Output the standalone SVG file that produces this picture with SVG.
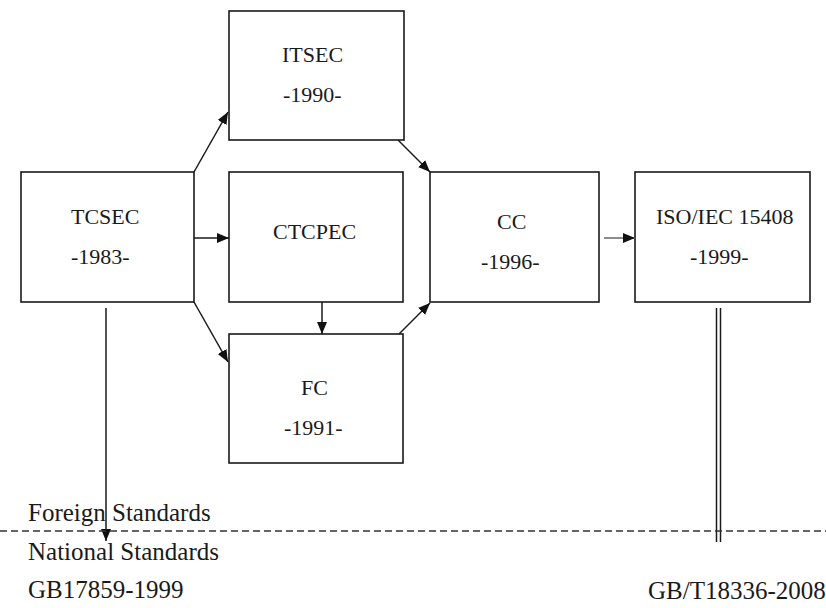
<svg xmlns="http://www.w3.org/2000/svg" width="826" height="608" viewBox="0 0 826 608">
  <style>
    .box { fill: #ffffff; stroke: #1a1a1a; stroke-width: 1.6; }
    .lbl { font-family: "Liberation Serif", "Times New Roman", serif; font-size: 22px; fill: #1a1a1a; }
    .big { font-family: "Liberation Serif", "Times New Roman", serif; font-size: 25px; fill: #1a1a1a; }
    .edge { stroke: #1a1a1a; stroke-width: 1.5; fill: none; }
  </style>
  <defs>
    <marker id="arrow" markerUnits="userSpaceOnUse" markerWidth="13" markerHeight="11" refX="12" refY="5" orient="auto">
      <path d="M0,0 L12,5 L0,10 Z" fill="#111"/>
    </marker>
  </defs>
  <rect width="826" height="608" fill="#ffffff"/>

  <g id="tcsec">
    <rect class="box" x="21" y="172" width="173" height="130"/>
    <text class="lbl" x="71" y="224">TCSEC</text>
    <text class="lbl" x="71" y="264">-1983-</text>
  </g>
  <g id="itsec">
    <rect class="box" x="229" y="11" width="175" height="129"/>
    <text class="lbl" x="282" y="62">ITSEC</text>
    <text class="lbl" x="283" y="102">-1990-</text>
  </g>
  <g id="ctcpec">
    <rect class="box" x="229" y="172" width="174" height="130"/>
    <text class="lbl" x="273" y="239">CTCPEC</text>
  </g>
  <g id="fc">
    <rect class="box" x="229" y="334" width="174" height="129"/>
    <text class="lbl" x="301" y="395">FC</text>
    <text class="lbl" x="284" y="435">-1991-</text>
  </g>
  <g id="cc">
    <rect class="box" x="430" y="172" width="169" height="130"/>
    <text class="lbl" x="497" y="229">CC</text>
    <text class="lbl" x="481" y="269">-1996-</text>
  </g>
  <g id="iso">
    <rect class="box" x="635" y="172" width="175" height="130"/>
    <text class="lbl" x="656" y="224">ISO/IEC 15408</text>
    <text class="lbl" x="690" y="264">-1999-</text>
  </g>

  <g id="connectors">
    <line class="edge" x1="194" y1="172" x2="228" y2="112" marker-end="url(#arrow)"/>
    <line class="edge" x1="194" y1="238" x2="229" y2="238" marker-end="url(#arrow)"/>
    <line class="edge" x1="194" y1="302" x2="228" y2="362" marker-end="url(#arrow)"/>
    <line class="edge" x1="398" y1="140" x2="430" y2="172" marker-end="url(#arrow)"/>
    <line class="edge" x1="322" y1="302" x2="322" y2="334" marker-end="url(#arrow)"/>
    <line class="edge" x1="399" y1="334" x2="430" y2="303" marker-end="url(#arrow)"/>
    <line class="edge" x1="604" y1="238" x2="635" y2="238" marker-end="url(#arrow)" style="stroke:#666"/>
    <line class="edge" x1="106" y1="308" x2="106" y2="541" marker-end="url(#arrow)"/>
    <line class="edge" x1="716.5" y1="308" x2="716.5" y2="542"/>
    <line class="edge" x1="720.5" y1="308" x2="720.5" y2="542"/>
  </g>

  <g id="divider">
    <line x1="0" y1="531" x2="826" y2="531" stroke="#333" stroke-width="1.4" stroke-dasharray="7,4"/>
    <text class="big" x="28" y="521">Foreign Standards</text>
    <text class="big" x="28" y="560">National Standards</text>
    <text class="big" x="28" y="598">GB17859-1999</text>
    <text class="big" x="648" y="599">GB/T18336-2008</text>
  </g>
</svg>
